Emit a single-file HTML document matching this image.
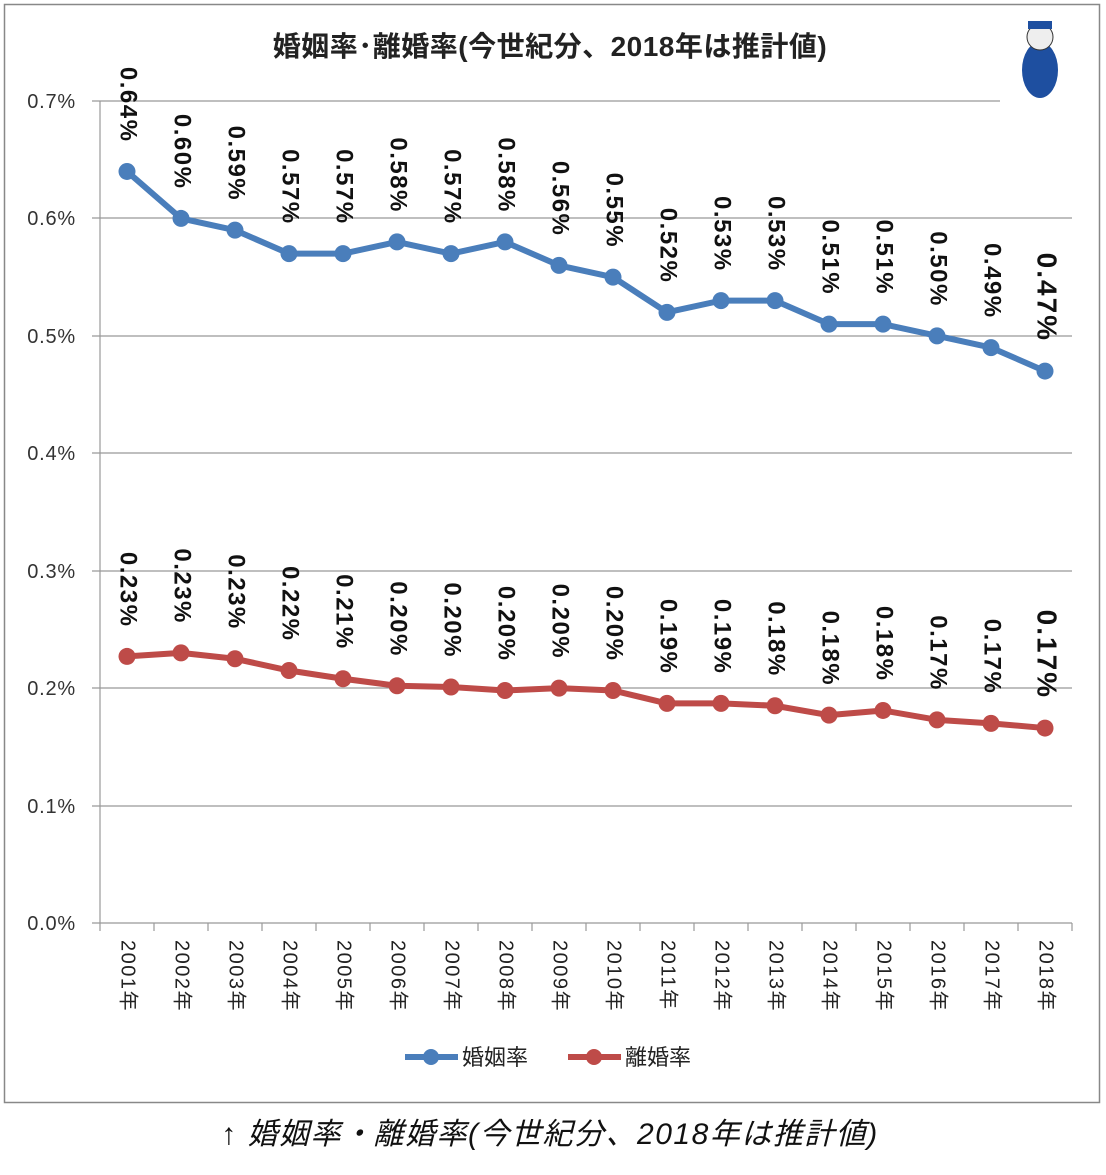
<!DOCTYPE html>
<html><head><meta charset="utf-8"><style>
body{margin:0;background:#fff;width:1106px;height:1170px;overflow:hidden}
svg text{font-family:"Liberation Sans","Noto Sans CJK JP",sans-serif}
</style></head><body>
<svg width="1106" height="1170" xmlns="http://www.w3.org/2000/svg">
<rect x="4.5" y="4.5" width="1095" height="1098" fill="#fff" stroke="#888" stroke-width="1.5"/>
<text x="550" y="56" font-size="28" font-weight="bold" text-anchor="middle" fill="#222" letter-spacing="0.5">婚姻率･離婚率(今世紀分、2018年は推計値)</text>
<g stroke="#999" stroke-width="1.2">
<line x1="92" y1="101" x2="1000" y2="101"/>
<line x1="92" y1="218" x2="1072" y2="218"/>
<line x1="92" y1="336" x2="1072" y2="336"/>
<line x1="92" y1="453" x2="1072" y2="453"/>
<line x1="92" y1="571" x2="1072" y2="571"/>
<line x1="92" y1="688" x2="1072" y2="688"/>
<line x1="92" y1="806" x2="1072" y2="806"/>
<line x1="92" y1="923" x2="1072" y2="923"/>
<line x1="100" y1="101" x2="100" y2="923"/>
</g>
<g stroke="#999" stroke-width="1.2" id="ticks"></g>
<g font-size="20" fill="#333" text-anchor="end" letter-spacing="0.8">
<text x="76" y="108">0.7%</text><text x="76" y="225">0.6%</text><text x="76" y="343">0.5%</text><text x="76" y="460">0.4%</text><text x="76" y="578">0.3%</text><text x="76" y="695">0.2%</text><text x="76" y="813">0.1%</text><text x="76" y="930">0.0%</text>
</g>
<g id="g"></g>
<g font-size="22" fill="#222">
<text x="462" y="1065">婚姻率</text><text x="625" y="1065">離婚率</text>
</g>
<line x1="405" y1="1057" x2="458" y2="1057" stroke="#4a7ebb" stroke-width="6"/><circle cx="431" cy="1057" r="8" fill="#4a7ebb"/>
<line x1="568" y1="1057" x2="621" y2="1057" stroke="#be4b48" stroke-width="6"/><circle cx="594" cy="1057" r="8" fill="#be4b48"/>
<text x="550" y="1144" font-size="30" font-style="italic" text-anchor="middle" fill="#111" letter-spacing="1.5">↑ 婚姻率・離婚率(今世紀分、2018年は推計値)</text>
<g transform="translate(1040,55)">
<ellipse cx="0" cy="15" rx="18" ry="28" fill="#1e4fa0"/><circle cx="0" cy="-18" r="13" fill="#eee" stroke="#333"/><rect x="-12" y="-34" width="24" height="8" fill="#1e4fa0"/>
</g>
</svg>
<script>
var b=[.64,.60,.59,.57,.57,.58,.57,.58,.56,.55,.52,.53,.53,.51,.51,.50,.49,.47];
var r=[.227,.230,.225,.215,.208,.202,.201,.198,.200,.198,.187,.187,.185,.177,.181,.173,.170,.166];
var rl=[.23,.23,.23,.22,.21,.20,.20,.20,.20,.20,.19,.19,.18,.18,.18,.17,.17,.17];
var ns="http://www.w3.org/2000/svg",g=document.getElementById('g'),t=document.getElementById('ticks');
function Y(v){return 923-v*1174.3}
function el(n,a,p,tx){var e=document.createElementNS(ns,n);for(var k in a)e.setAttribute(k,a[k]);if(tx)e.textContent=tx;(p||g).appendChild(e);return e}
for(var i=0;i<=18;i++)el('line',{x1:100+54*i,y1:923,x2:100+54*i,y2:931},t);
function series(d,c,lab){var pts=d.map(function(v,i){return (127+54*i)+','+Y(v)}).join(' ');
el('polyline',{points:pts,fill:'none',stroke:c,'stroke-width':6,'stroke-linejoin':'round'});
d.forEach(function(v,i){var x=127+54*i,y=Y(v);el('circle',{cx:x,cy:y,r:8.5,fill:c});
var big=i==17;el('text',{transform:'translate('+x+','+(y-29)+') rotate(90)','text-anchor':'end','dominant-baseline':'middle','font-size':big?28:24,'letter-spacing':big?2:1.5,'font-weight':'bold',fill:'#111'},null,lab[i].toFixed(2)+'%');});}
series(b,'#4a7ebb',b);series(r,'#be4b48',rl);
for(var i=0;i<18;i++)el('text',{transform:'translate('+(127+54*i)+',940) rotate(90)','dominant-baseline':'middle','font-size':20,'letter-spacing':1.5,fill:'#222'},null,(2001+i)+'年');
</script>
</body></html>
